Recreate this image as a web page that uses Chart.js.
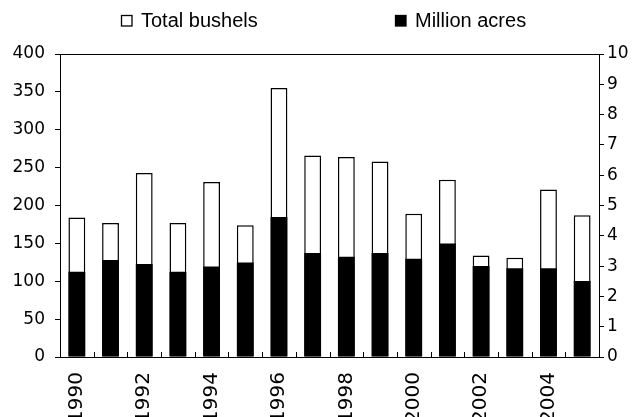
<!DOCTYPE html>
<html>
<head>
<meta charset="utf-8">
<script src="https://cdn.jsdelivr.net/npm/chart.js@4.4.1/dist/chart.umd.min.js"></script>
<style>
html,body{margin:0;padding:0;background:#fff;}
#wrap{width:637px;height:417px;position:relative;}
</style>
</head>
<body>
<div id="wrap"><canvas id="c" width="637" height="417"></canvas></div>
<script>
const years = ['1990','1991','1992','1993','1994','1995','1996','1997','1998','1999','2000','2001','2002','2003','2004','2005'];
const totalBushels = [184, 177, 243, 177, 231, 174, 355, 266, 264, 258, 189, 234, 134, 131, 221, 187];
const millionAcres = [2.81, 3.20, 3.07, 2.81, 2.99, 3.12, 4.62, 3.43, 3.31, 3.43, 3.24, 3.75, 3.00, 2.93, 2.93, 2.51];
const leftTicks = [0, 50, 100, 150, 200, 250, 300, 350, 400];
const rightTicks = [0, 1, 2, 3, 4, 5, 6, 7, 8, 9, 10];

const FONT = "'Liberation Sans', Arial, sans-serif";
const TICKFONT = "'DejaVu Sans', 'Liberation Sans', sans-serif";

const framePlugin = {
  id: 'frame',
  afterDatasetsDraw(chart) {
    const {ctx, chartArea: a, scales: {x}} = chart;
    ctx.save();
    ctx.strokeStyle = '#000';
    ctx.lineWidth = 1;
    ctx.strokeRect(Math.round(a.left) + 0.5, Math.round(a.top) + 0.5, Math.round(a.right - a.left), Math.round(a.bottom - a.top));
    ctx.beginPath();
    for (let i = 1; i < years.length; i++) {
      const px = Math.round((x.getPixelForValue(i - 1) + x.getPixelForValue(i)) / 2) + 0.5;
      ctx.moveTo(px, a.bottom);
      ctx.lineTo(px, a.bottom - 5);
    }
    ctx.stroke();
    ctx.restore();
  },
  afterDraw(chart) {
    const {ctx} = chart;
    const items = [
      {text: chart.data.datasets[0].label, fill: '#fff', x: 121},
      {text: chart.data.datasets[1].label, fill: '#000', x: 395}
    ];
    ctx.save();
    ctx.font = '20px ' + FONT;
    ctx.textBaseline = 'alphabetic';
    items.forEach(it => {
      ctx.fillStyle = it.fill;
      ctx.fillRect(it.x, 15, 11, 11);
      ctx.strokeStyle = '#000';
      ctx.lineWidth = 1.3;
      ctx.strokeRect(it.x + 0.5, 15.5, 10.5, 10.5);
      ctx.fillStyle = '#000';
      ctx.fillText(it.text, it.x + 20, 27);
    });
    ctx.restore();
  }
};

new Chart(document.getElementById('c'), {
  type: 'bar',
  data: {
    labels: years,
    datasets: [
      {
        label: 'Total bushels',
        data: totalBushels,
        yAxisID: 'y',
        backgroundColor: '#fff',
        borderColor: '#000',
        borderWidth: 1.5,
        borderSkipped: false,
        order: 1,
        grouped: false,
        barPercentage: 0.5,
        categoryPercentage: 1
      },
      {
        label: 'Million acres',
        data: millionAcres,
        yAxisID: 'y2',
        backgroundColor: '#000',
        borderWidth: 0,
        order: 0,
        grouped: false,
        barPercentage: 0.5,
        categoryPercentage: 1
      }
    ]
  },
  options: {
    responsive: false,
    animation: false,
    events: [],
    layout: {padding: {top: 54, left: 0, right: 0, bottom: 0}},
    plugins: {legend: {display: false}, tooltip: {enabled: false}},
    scales: {
      x: {
        offset: true,
        grid: {display: false},
        border: {display: false},
        ticks: {
          autoSkip: false,
          maxRotation: 90,
          minRotation: 90,
          padding: 7,
          color: '#000',
          font: {family: TICKFONT, size: 20},
          callback: function(v, i) { return i % 2 === 0 ? years[i] : ''; }
        },
        afterFit(s) { s.height = 60; }
      },
      y: {
        position: 'left',
        min: 0,
        max: 400,
        afterBuildTicks(s) { s.ticks = leftTicks.map(v => ({value: v})); },
        grid: {drawOnChartArea: false, drawTicks: true, tickLength: 5, color: '#000'},
        border: {display: true, color: '#000'},
        ticks: {color: '#000', padding: 10, font: {family: TICKFONT, size: 17}},
        afterFit(s) { s.width = 60; }
      },
      y2: {
        position: 'right',
        min: 0,
        max: 10,
        afterBuildTicks(s) { s.ticks = rightTicks.map(v => ({value: v})); },
        grid: {drawOnChartArea: false, drawTicks: true, tickLength: 5, color: '#000'},
        border: {display: true, color: '#000'},
        ticks: {color: '#000', padding: 3, font: {family: TICKFONT, size: 17}},
        afterFit(s) { s.width = 38; }
      }
    }
  },
  plugins: [framePlugin]
});
</script>
</body>
</html>
